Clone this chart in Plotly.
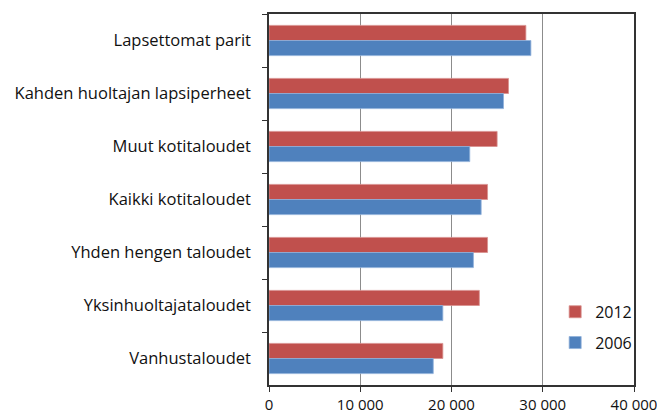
import plotly.graph_objects as go

categories = ["Lapsettomat parit", "Kahden huoltajan lapsiperheet", "Muut kotitaloudet",
              "Kaikki kotitaloudet", "Yhden hengen taloudet", "Yksinhuoltajataloudet", "Vanhustaloudet"]
values_2012 = [28150, 26250, 25000, 23950, 23950, 23050, 19050]
values_2006 = [28700, 25700, 22000, 23250, 22400, 19050, 18000]
tick_vals = [0, 10000, 20000, 30000, 40000]
tick_text = ["0", "10 000", "20 000", "30 000", "40 000"]

font_family = "Open Sans, Liberation Sans, sans-serif"

fig = go.Figure()
fig.add_trace(go.Bar(y=categories, x=values_2012, name="2012", orientation="h", legendgroup="a",
                     marker=dict(color="#C0504D", line=dict(color="#D8908E", width=0.8))))
fig.add_trace(go.Bar(y=categories, x=values_2006, name="2006", orientation="h", legendgroup="b",
                     marker=dict(color="#4F81BD", line=dict(color="#8FB0DA", width=0.8))))

fig.update_layout(
    width=657, height=414,
    margin=dict(l=269, r=23, t=14, b=29, autoexpand=False),
    paper_bgcolor="white", plot_bgcolor="white",
    barmode="group", bargap=0.43, bargroupgap=0,
    font=dict(family=font_family, size=15, color="#111111"),
    showlegend=True,
    legend=dict(x=0.784, y=0.243, xanchor="left", yanchor="top",
                bgcolor="rgba(0,0,0,0)", font=dict(size=16),
                itemwidth=30, tracegroupgap=7, traceorder="grouped"),
)
fig.update_xaxes(range=[0, 40000], tickvals=tick_vals, ticktext=tick_text, automargin=False,
                 ticklabeloverflow="allow",
                 showgrid=True, gridcolor="#8c8c8c", gridwidth=1.2,
                 showline=True, linecolor="#333333", linewidth=1.5, mirror=True,
                 ticks="outside", ticklen=5, tickcolor="#333333",
                 zeroline=False, tickfont=dict(size=15))
fig.update_yaxes(categoryorder="array", categoryarray=categories, autorange="reversed",
                 automargin=False,
                 showline=True, linecolor="#333333", linewidth=1.5, mirror=True,
                 ticks="outside", ticklen=5, tickcolor="#333333", tickson="boundaries",
                 ticklabelstandoff=13, tickfont=dict(size=16.5), showgrid=False)

fig.write_html("out.html", config={"displayModeBar": False},
               post_script="document.body.style.margin='0';document.body.style.overflow='hidden';")
